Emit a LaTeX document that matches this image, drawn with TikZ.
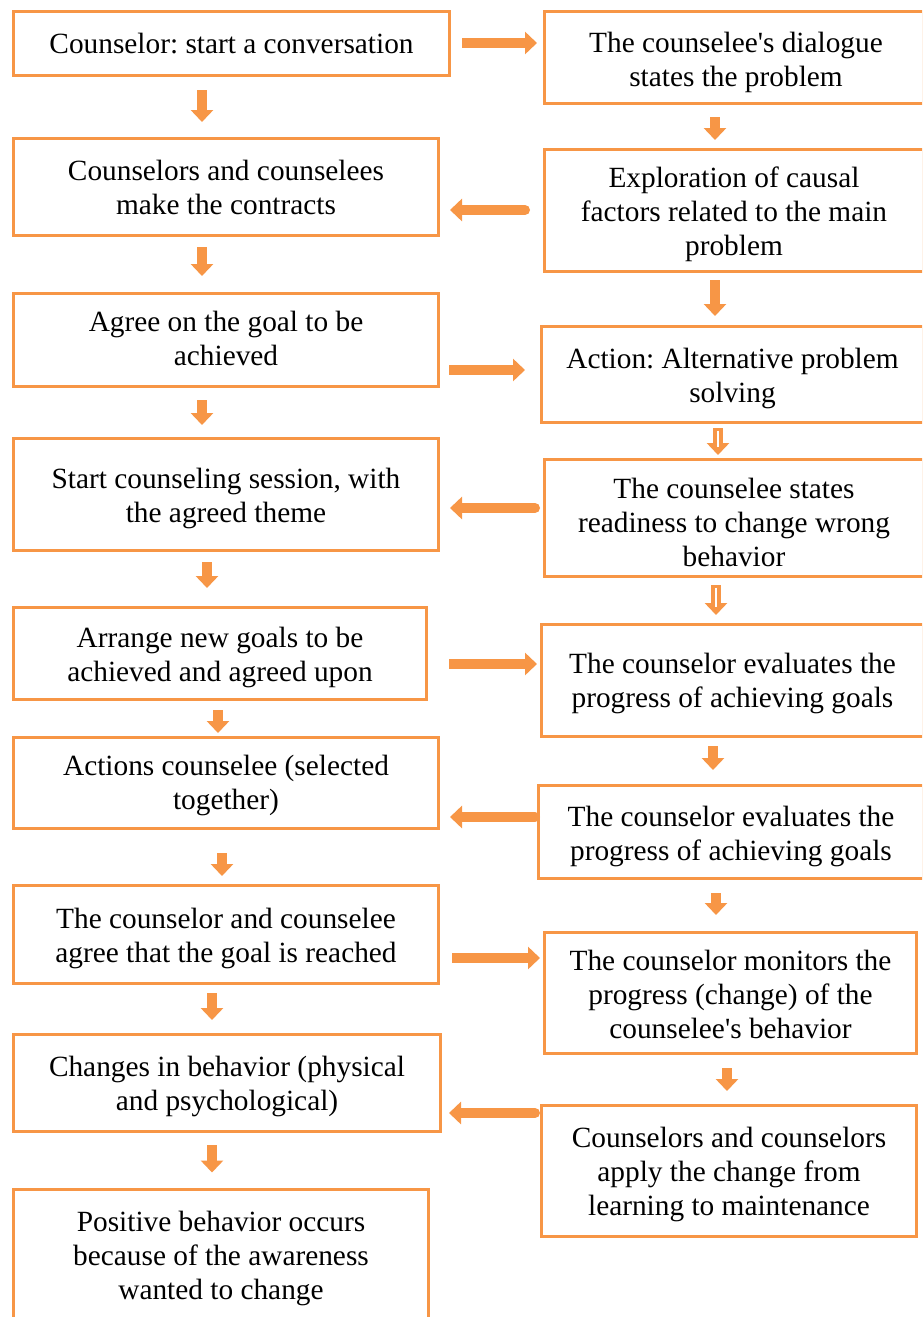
\documentclass[tikz,border=0pt]{standalone}
\usepackage{fontspec}
\setmainfont{Liberation Serif}[Ligatures=TeXOff]
\usetikzlibrary{arrows.meta,calc}
\definecolor{org}{RGB}{247,150,70}
\frenchspacing
\begin{document}
\begin{tikzpicture}[x=0.75pt,y=-0.75pt,
  box/.style 2 args={draw=org, line width=2.25pt, fill=white, outer sep=0pt, inner sep=0pt,
    minimum width=#1*0.75pt, minimum height=#2*0.75pt},
  txt/.style={inner sep=0pt, align=center, font=\fontsize{22}{25.5}\selectfont},
  arr/.style={draw=org, line width=7.5pt, -{Triangle[width=16.5pt,length=9pt]}},
  larr/.style={arr, line cap=round},
  hollow/.style={draw=white, line width=1.5pt, shorten <=2pt, shorten >=6pt}]
\path[use as bounding box] (0,0) rectangle (922,1317);
\clip (0,0) rectangle (922,1317);
% left column
\node[box={436}{64}]  (L1) at (231.5,43.5) {};
\node[box={425}{97}]  (L2) at (226,187)    {};
\node[box={425}{93}]  (L3) at (226,340)    {};
\node[box={425}{112}] (L4) at (226,494.5)  {};
\node[box={413}{92}]  (L5) at (220,653.5)  {};
\node[box={425}{91}]  (L6) at (226,783)    {};
\node[box={425}{98}]  (L7) at (226,934.5)  {};
\node[box={427}{97}]  (L8) at (227,1083)   {};
\node[box={415}{136}] (L9) at (221,1257)   {};
\node[txt] (L1t) at ($(L1)+(0,0)$)   {Counselor: start a conversation};
\node[txt] (L2t) at ($(L2)+(0,0)$)   {Counselors and counselees\\make the contracts};
\node[txt] (L3t) at ($(L3)+(0,-2)$)  {Agree on the goal to be\\achieved};
\node[txt] (L4t) at ($(L4)+(0,4)$)   {Start counseling session, with\\the agreed theme};
\node[txt] (L5t) at ($(L5)+(0,4)$)   {Arrange new goals to be\\achieved and agreed upon};
\node[txt] (L6t) at ($(L6)+(0,2.5)$) {Actions counselee (selected\\together)};
\node[txt] (L7t) at ($(L7)+(0,4)$)   {The counselor and counselee\\agree that the goal is reached};
\node[txt] (L8t) at ($(L8)+(0,3.5)$) {Changes in behavior (physical\\and psychological)};
\node[txt] (L9t) at ($(L9)+(0,1)$)   {Positive behavior occurs\\because of the awareness\\wanted to change};
% right column
\node[box={379}{92}]  (R1) at (734,57.5)   {};
\node[box={379}{122}] (R2) at (734,210.5)  {};
\node[box={382}{96}]  (R3) at (732.5,374.5){};
\node[box={379}{117}] (R4) at (734,518)    {};
\node[box={382}{112}] (R5) at (732.5,680.5){};
\node[box={385}{93}]  (R6) at (731,832)    {};
\node[box={372}{121}] (R7) at (730.5,993)  {};
\node[box={375}{131}] (R8) at (729,1171)   {};
\node[txt] (R1t) at ($(R1)+(2,4.5)$)  {The counselee's dialogue\\states the problem};
\node[txt] (R2t) at ($(R2)+(0,4)$)    {Exploration of causal\\factors related to the main\\problem};
\node[txt] (R3t) at ($(R3)+(0,3.5)$)  {Action: Alternative problem\\solving};
\node[txt] (R4t) at ($(R4)+(0,4)$)    {The counselee states\\readiness to change wrong\\behavior};
\node[txt] (R5t) at ($(R5)+(0,3)$)    {The counselor evaluates the\\progress of achieving goals};
\node[txt] (R6t) at ($(R6)+(0,4.5)$)  {The counselor evaluates the\\progress of achieving goals};
\node[txt] (R7t) at ($(R7)+(0,1.5)$)  {The counselor monitors the\\progress (change) of the\\counselee's behavior};
\node[txt] (R8t) at ($(R8)+(0,3.5)$)  {Counselors and counselors\\apply the change from\\learning to maintenance};
% arrows
\draw[arr]  ($(L1.east)+(12.5,-0.5)$) -- ($(R1.west)+(-7.5,-14.5)$);
\draw[arr]  ($(L1.south)+(-29.5,14.5)$) -- ($(L2.north)+(-24,-16.5)$);
\draw[arr]  ($(R1.south)+(-19,13.5)$) -- ($(R2.north)+(-19,-9.5)$);
\draw[larr] ($(R2.west)+(-19.5,-0.5)$) -- ($(L2.east)+(11.5,23)$);
\draw[arr]  ($(L2.south)+(-24,11.5)$) -- ($(L3.north)+(-24,-17.5)$);
\draw[arr]  ($(R2.south)+(-19,8.5)$) -- ($(R3.north)+(-17.5,-10.5)$);
\draw[arr]  ($(L3.east)+(10.5,30)$) -- ($(R3.west)+(-16.5,-4.5)$);
\draw[arr]  ($(L3.south)+(-24,13.5)$) -- ($(L4.north)+(-24,-13.5)$);
\draw[arr]  ($(R3.south)+(-14.5,5.5)$) -- ($(R4.north)+(-16,-4.5)$);
\draw[hollow] ($(R3.south)+(-14.5,5.5)$) -- ($(R4.north)+(-16,-4.5)$);
\draw[larr] ($(R4.west)+(-9.5,-10)$) -- ($(L4.east)+(11.5,13.5)$);
\draw[arr]  ($(L4.south)+(-19,11.5)$) -- ($(L5.north)+(-13,-19.5)$);
\draw[arr]  ($(R4.south)+(-18,8.5)$) -- ($(R5.north)+(-16.5,-9.5)$);
\draw[hollow] ($(R4.south)+(-18,8.5)$) -- ($(R5.north)+(-16.5,-9.5)$);
\draw[arr]  ($(L5.east)+(22.5,10.5)$) -- ($(R5.west)+(-4.5,-16.5)$);
\draw[arr]  ($(L5.south)+(-2,10.5)$) -- ($(L6.north)+(-8,-4.5)$);
\draw[arr]  ($(R5.south)+(-19.5,9.5)$) -- ($(R6.north)+(-18,-15.5)$);
\draw[larr] ($(R6.west)+(-3.5,-15)$) -- ($(L6.east)+(11.5,34)$);
\draw[arr]  ($(L6.south)+(-4,24.5)$) -- ($(L7.north)+(-4,-9.5)$);
\draw[arr]  ($(R6.south)+(-15,14.5)$) -- ($(R7.north)+(-14.5,-17.5)$);
\draw[arr]  ($(L7.east)+(13.5,23.5)$) -- ($(R7.west)+(-4.5,-35)$);
\draw[arr]  ($(L7.south)+(-14,9.5)$) -- ($(L8.north)+(-15,-14.5)$);
\draw[arr]  ($(R7.south)+(-3.5,14.5)$) -- ($(R8.north)+(-2,-14.5)$);
\draw[larr] ($(R8.west)+(-6.5,-58)$) -- ($(L8.east)+(8.5,30)$);
\draw[arr]  ($(L8.south)+(-15,13.5)$) -- ($(L9.north)+(-9,-16.5)$);
\end{tikzpicture}
\end{document}
